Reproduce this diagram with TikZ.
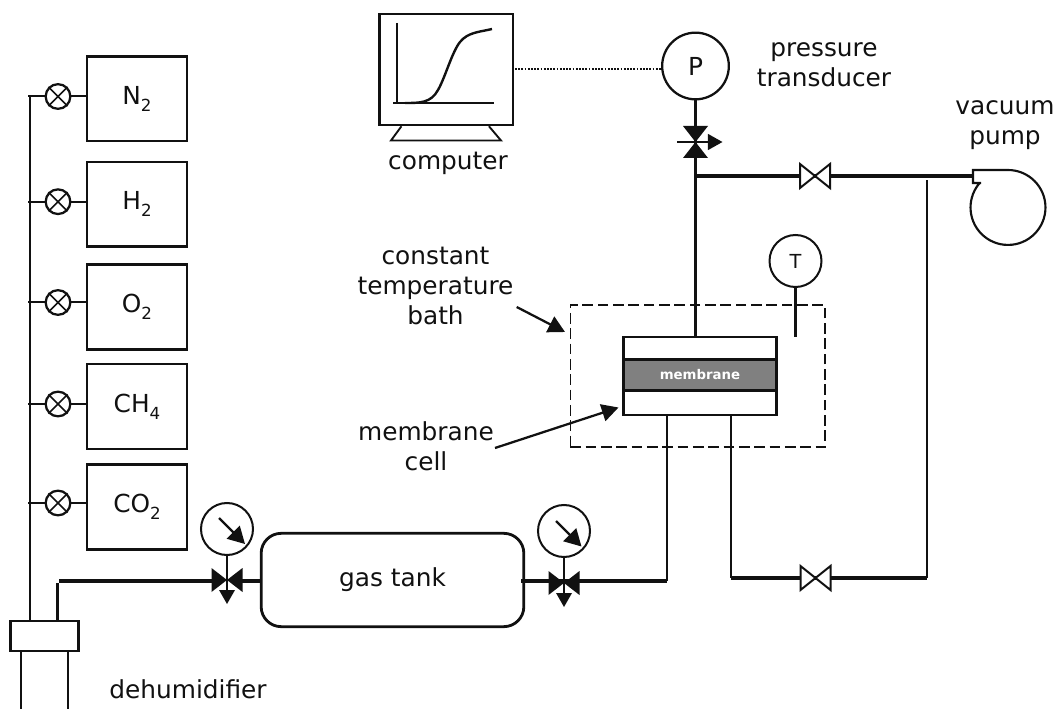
\documentclass[tikz,border=0pt]{standalone}
\usepackage{fontspec}
\setmainfont{DejaVu Sans}
\usetikzlibrary{arrows.meta,calc}
\newcommand{\gsub}[1]{\raisebox{-0.28em}{\fontsize{12.5pt}{12.5pt}\selectfont #1}}
\definecolor{ink}{HTML}{111111}
\tikzset{
  x=0.75pt,y=-0.75pt,
  thin line/.style={line width=1.8pt,draw=ink},
  thick line/.style={line width=2.3pt,draw=ink},
  label text/.style={font=\fontsize{18.6pt}{22.5pt}\selectfont,text=ink,align=center,inner sep=0pt},
  gasbox/.style={draw=ink,line width=1.9pt,minimum width=75pt,minimum height=63.5pt,inner sep=0pt,font=\fontsize{18.6pt}{22pt}\selectfont,text=ink},
  onoff/.style={circle,draw=ink,line width=1.7pt,minimum size=18.5pt,inner sep=0pt},
  gaugecircle/.style={circle,draw=ink,line width=1.5pt,minimum size=39pt,inner sep=0pt},
  opentip/.style={fill=white,draw=ink,line width=1.5pt,line join=miter},
  pointer/.style={draw=ink,line width=1.6pt,-{Triangle[length=12.5pt,width=13.5pt]}},
  leader/.style={draw=ink,line width=1.7pt,-{Triangle[length=12.5pt,width=13pt]}},
}
\begin{document}
\begin{tikzpicture}
\useasboundingbox (0,0) rectangle (1058,709);

% gas cylinders, on-off valves, header
\coordinate (headertop) at (30,96.5);
\coordinate (headerbot) at (30,621);
\foreach \nm/\lab/\cy/\vy in {
  nitrogen/{N\gsub{2}}/98.7/96.5,
  hydrogen/{H\gsub{2}}/204.3/201.7,
  oxygen/{O\gsub{2}}/307/302.5,
  methane/{CH\gsub{4}}/406.5/404,
  carbon/{CO\gsub{2}}/507/503}{
  \node[gasbox] (\nm) at (137,\cy) {\lab};
  \node[onoff] (v\nm) at (58,\vy) {};
  \draw[thin line,line width=1.2pt] (v\nm.north west) -- (v\nm.south east) (v\nm.north east) -- (v\nm.south west);
  \coordinate (j\nm) at (28,\vy);
  \draw[thin line,line width=1.5pt] (j\nm) -- (v\nm.west);
  \draw[thin line,line width=1.5pt] (v\nm.east) -- (v\nm.east -| \nm.west);
}
\draw[thin line,line width=2pt] (headertop) -- (headerbot);

% dehumidifier
\node[draw=ink,line width=1.6pt,minimum width=51pt,minimum height=23pt,inner sep=0pt] (dehumtop) at (44.5,636) {};
\coordinate (tubeL) at (21,709);
\coordinate (tubeR) at (67.5,709);
\draw[thin line,line width=1.5pt] (tubeL) -- (21,650.5) -- (67.5,650.5) -- (tubeR);
\draw[thin line,line width=2pt] (21,651) -- (67.5,651);
\node[label text,anchor=base] (dehumlabel) at (188,698) {dehumidifier};

% gas tank
\node[draw=ink,line width=2.1pt,rounded corners=15pt,minimum width=197pt,minimum height=70pt,inner sep=0pt,label text] (tank) at (392.5,580) {gas tank};

% feed line and valves
\coordinate (elbow) at (57.5,581);
\coordinate (vone) at (227,580);
\coordinate (vtwo) at (564,583);
\coordinate (tankexit) at (521,581);
\coordinate (cornerA) at (667,581);
\draw[thin line] (elbow |- dehumtop.north) -- (57.5,583);
\draw[thick line] (59,581) -- (214,581) (240,581) -- (tank.west |- 0,581);
\draw[thick line] (tankexit) -- (cornerA);
\foreach \v in {vone,vtwo}{
  \fill[ink] (\v) -- ($(\v)+(-15.5,-12)$) -- ($(\v)+(-15.5,12)$) -- cycle;
  \fill[ink] (\v) -- ($(\v)+(15.5,-12)$) -- ($(\v)+(15.5,12)$) -- cycle;
  \draw[ink,line width=1.5pt] (\v) -- ($(\v)+(0,12)$);
  \fill[ink] ($(\v)+(-8,10)$) -- ($(\v)+(8,10)$) -- ($(\v)+(0,24)$) -- cycle;
}
\node[gaugecircle] (gone) at (227,529) {};
\node[gaugecircle] (gtwo) at (564,531) {};
\draw[thin line,line width=2pt] (gone.south) -- (vone);
\draw[thin line,line width=1.8pt] (gtwo.south) -- (vtwo);
\draw[pointer] (219,518) -- (245,544);
\draw[pointer] (556,521) -- (581.5,546.5);

% bath
\node[draw=ink,line width=1pt,dash pattern=on 8pt off 3.5pt,minimum width=191pt,minimum height=106.5pt,inner sep=0pt] (bath) at (697.5,376) {};

% membrane cell
\node[draw=ink,line width=2pt,fill=white,minimum width=114.5pt,minimum height=58.5pt,inner sep=0pt] (cell) at (700,376) {};
\node[draw=ink,line width=2pt,fill=black!50,minimum width=114.5pt,minimum height=23.5pt,inner sep=0pt,text=white,font=\fontsize{10pt}{12pt}\selectfont\bfseries] (membrane) at (700,375) {membrane};

% outlet lines
\coordinate (outA) at (667,415);
\coordinate (outB) at (731,415);
\coordinate (cornerB) at (731,578);
\coordinate (cornerC) at (927,578);
\coordinate (riser) at (927,180);
\coordinate (vlow) at (815.5,578);
\coordinate (vup) at (815,176);
\draw[thin line] (outA) -- (cornerA);
\draw[thin line] (outB) -- (cornerB);
\draw[thick line] (cornerB) -- (vlow) -- (cornerC);
\draw[thin line,line width=2pt] (cornerC) -- (riser);

% pressure transducer, 3-way valve
\node[circle,draw=ink,line width=1.7pt,minimum size=50pt,inner sep=0pt,label text] (P) at (695.5,66) {P};
\coordinate (vthree) at (695.5,142);
\coordinate (tee) at (695.5,176);
\draw[thick line] (P.south) -- (vthree) -- (cell.north -| vthree);
\fill[ink] (vthree) -- ($(vthree)+(-12.5,-16)$) -- ($(vthree)+(12.5,-16)$) -- cycle;
\fill[ink] (vthree) -- ($(vthree)+(-12.5,16)$) -- ($(vthree)+(12.5,16)$) -- cycle;
\coordinate (vthreeL) at (677,142);
\coordinate (vthreeR) at (722.5,142);
\draw[thin line,line width=1.3pt,-{Triangle[length=11pt,width=12pt]}] (vthreeL) -- (vthreeR);

% vacuum pump
\coordinate (pumpin) at (973,176);
\draw[thick line] (tee) -- (vup) -- (pumpin);
\draw[thin line,line width=1.6pt,line join=miter] (981,183) -- (973,183) -- (973,170) -- (1008,170)
  arc[start angle=90,end angle=-221.7,radius=28.1pt];
\foreach \v in {vup,vlow}{
  \draw[opentip] ($(\v)+(-15,-12)$) -- ($(\v)+(15,12)$) -- ($(\v)+(15,-12)$) -- ($(\v)+(-15,12)$) -- cycle;
}

% temperature sensor
\node[circle,draw=ink,line width=1.5pt,minimum size=39pt,inner sep=0pt,font=\fontsize{14.5pt}{16pt}\selectfont,text=ink] (T) at (795.5,261) {T};
\coordinate (Tend) at (795.5,337);
\draw[thin line,line width=1.6pt] (T.south) -- (Tend);

% computer
\node[draw=ink,line width=1.6pt,minimum width=100pt,minimum height=83.5pt,inner sep=0pt] (screen) at (446.2,69.5) {};
\draw[thin line,line width=1.4pt,line join=miter] ($(screen.south west)+(23,0)$) -- (391,140.5) -- (501,140.5) -- ($(screen.south east)+(-25,0)$);
\draw[thin line] (397,23) -- (397,102);
\draw[thin line] (393,103) -- (494,103);
\draw[thin line] (405,103) .. controls (420,103) and (431,103) .. (438,90)
  .. controls (445,78) and (452,52) .. (460,42) .. controls (468,32) and (480,32) .. (492,29);
\node[label text,anchor=base] (computerlabel) at (448,170) {computer};
\coordinate (dotstart) at (515,69);
\draw[ink,line width=1pt,dash pattern=on 1.3pt off 1.1pt] (dotstart) -- (dotstart -| P.west);

% labels
\node[label text,anchor=base] (pressurelabel) at (824,87) {pressure\\transducer};
\node[label text,anchor=base] (vacuumlabel) at (1005,145) {vacuum\\pump};
\node[label text,anchor=base] (bathlabel) at (435.5,324.5) {constant\\temperature\\bath};
\node[label text,anchor=base] (celllabel) at (426,471) {membrane\\cell};

% leaders
\coordinate (bathtip) at (565,332);
\coordinate (celltip) at (618.5,407.5);
\coordinate (bathtail) at (516.7,307);
\coordinate (celltail) at (495,448);
\draw[leader] (bathtail) -- (bathtip);
\draw[leader] (celltail) -- (celltip);
\end{tikzpicture}
\end{document}
